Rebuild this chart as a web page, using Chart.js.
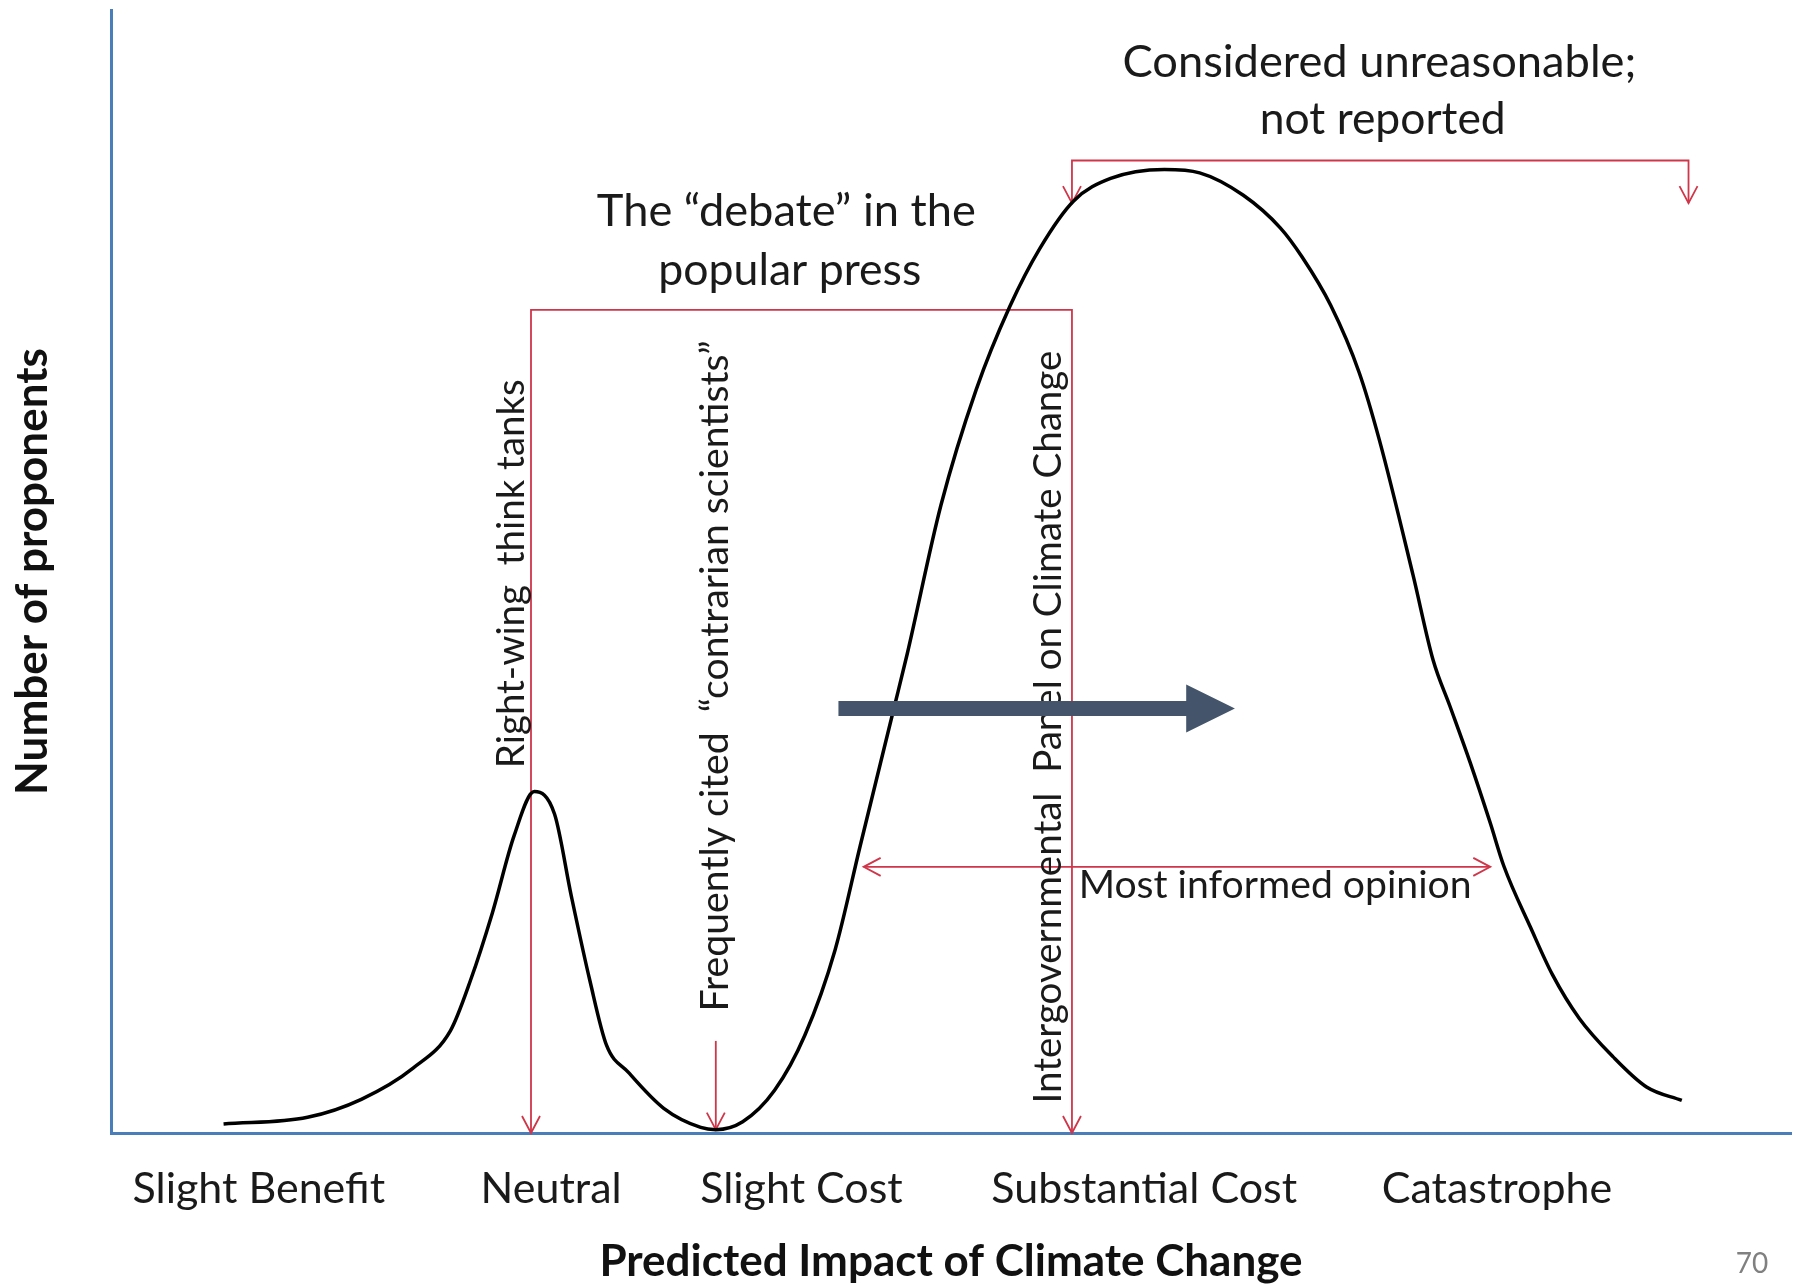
<!DOCTYPE html>
<html>
<head>
<meta charset="utf-8">
<script src="https://cdn.jsdelivr.net/npm/chart.js@4.4.1/dist/chart.umd.min.js"></script>
<style>
html,body{margin:0;padding:0;background:#fff;overflow:hidden}
#wrap{width:1800px;height:1286px;position:relative;background:#fff}
</style>
</head>
<body>
<div id="wrap"><canvas id="c" width="1800" height="1286"></canvas></div>
<script>
// ---------- data ----------
const curveX = [6.7, 11.7, 14.9, 18.0, 20.2, 21.4, 22.7, 24.0, 25.2, 26.4, 27.4, 28.5, 29.5, 30.8, 32.9,
  35.1, 36.0, 37.6, 39.5, 41.3, 43.1, 44.6, 46.6, 47.4, 49.4, 51.5, 53.5, 55.3, 57.3, 59.5, 62.7,
  64.8, 67.4, 69.6, 70.9, 72.6, 74.3, 75.5, 77.5, 78.7, 79.7, 80.9, 82.1, 82.9, 84.5, 85.8, 87.4,
  89.4, 91.4, 93.5];
const curveY = [0.8, 1.4, 3.0, 5.8, 9.1, 13.6, 19.6, 26.5, 30.4, 28.4, 21.1, 13.6, 7.8, 5.4, 2.2,
  0.5, 0.3, 1.0, 3.8, 8.7, 16.3, 25.6, 37.8, 42.7, 55.9, 66.2, 73.6, 78.8, 83.0, 85.0, 85.8,
  85.5, 83.5, 80.6, 78.0, 73.7, 67.7, 61.7, 49.7, 42.1, 38.0, 33.0, 27.6, 23.8, 18.3, 14.1, 10.2,
  6.8, 4.1, 2.9];
const tickValues = [8.8, 26.2, 41.1, 61.5, 82.5];
const tickLabels = ['Slight Benefit', 'Neutral', 'Slight Cost', 'Substantial Cost', 'Catastrophe'];
const xTitle = 'Predicted Impact of Climate Change';
const yTitle = 'Number of proponents';
const pageNumber = '70';

// ---------- annotation layout (in axis units) ----------
const RED = '#d0364a';
const redPaths = [
  // "debate" bracket
  {pts: [[25.0, 0], [25.0, 73.3], [57.2, 73.3], [57.2, 0]], heads: [{at: [25.0, 0], dir: 'down'}, {at: [57.2, 0], dir: 'down'}]},
  // "considered unreasonable" bracket
  {pts: [[57.2, 82.8], [57.2, 86.6], [93.9, 86.6], [93.9, 82.8]], heads: [{at: [57.2, 82.8], dir: 'down'}, {at: [93.9, 82.8], dir: 'down'}]},
  // contrarian scientists pointer
  {pts: [[36.0, 8.2], [36.0, 0.3]], heads: [{at: [36.0, 0.3], dir: 'down'}]},
  // most informed opinion
  {pts: [[44.8, 23.7], [82.1, 23.7]], heads: [{at: [44.8, 23.7], dir: 'left'}, {at: [82.1, 23.7], dir: 'right'}]}
];
const labels = [
  {text: 'Considered unreasonable;', x: 75.5, y: 94.0, align: 'center', w: 514},
  {text: 'not reported', x: 75.7, y: 89.0, align: 'center', w: 246},
  {text: 'The \u201cdebate\u201d in the', x: 40.2, y: 80.8, align: 'center', w: 379},
  {text: 'popular press', x: 40.4, y: 75.5, align: 'center', w: 263},
  {text: 'Most informed opinion', x: 57.6, y: 20.9, align: 'left', w: 393},
  {text: 'Right-wing  think tanks', x: 24.6, y: 49.8, align: 'center', w: 389, rot: true},
  {text: 'Frequently cited  \u201ccontrarian scientists\u201d', x: 36.7, y: 40.7, align: 'center', w: 671, rot: true},
  {text: 'Intergovernmental  Panel on Climate Change', x: 56.55, y: 36.15, align: 'center', w: 753, rot: true}
];
const bigArrow = {x0: 43.3, xHead: 64.0, x1: 66.9, y: 37.8, shaft: 15, head: 48, color: '#44546a'};

function setFit(ctx, text, width, weight) {
  ctx.font = (weight || 'normal') + ' 100px Lato';
  const m = ctx.measureText(text).width;
  ctx.font = (weight || 'normal') + ' ' + (100 * width / m).toFixed(2) + 'px Lato';
}

function head(ctx, x, y, dir) {
  const L = 17, H = 9;
  ctx.beginPath();
  if (dir === 'down') { ctx.moveTo(x - H, y - L); ctx.lineTo(x, y); ctx.lineTo(x + H, y - L); }
  if (dir === 'left') { ctx.moveTo(x + L, y - H); ctx.lineTo(x, y); ctx.lineTo(x + L, y + H); }
  if (dir === 'right') { ctx.moveTo(x - L, y - H); ctx.lineTo(x, y); ctx.lineTo(x - L, y + H); }
  ctx.stroke();
}

const annot = {
  id: 'annot',
  beforeDatasetsDraw(chart) {
    const ctx = chart.ctx, sx = chart.scales.x, sy = chart.scales.y;
    const P = (p) => [sx.getPixelForValue(p[0]), sy.getPixelForValue(p[1])];
    ctx.save();
    ctx.strokeStyle = RED; ctx.lineWidth = 1.8; ctx.lineJoin = 'miter'; ctx.lineCap = 'butt';
    redPaths.forEach(r => {
      ctx.beginPath();
      r.pts.forEach((p, i) => { const q = P(p); i ? ctx.lineTo(q[0], q[1]) : ctx.moveTo(q[0], q[1]); });
      ctx.stroke();
      r.heads.forEach(h => { const q = P(h.at); head(ctx, q[0], q[1], h.dir); });
    });
    ctx.fillStyle = '#1a1a1a';
    ctx.textBaseline = 'alphabetic';
    labels.forEach(l => {
      setFit(ctx, l.text, l.w);
      const q = P([l.x, l.y]);
      ctx.textAlign = l.align;
      if (l.rot) {
        ctx.save(); ctx.translate(q[0], q[1]); ctx.rotate(-Math.PI / 2);
        ctx.fillText(l.text, 0, 0); ctx.restore();
      } else {
        ctx.fillText(l.text, q[0], q[1]);
      }
    });
    ctx.restore();
  },
  afterDatasetsDraw(chart) {
    const ctx = chart.ctx, sx = chart.scales.x, sy = chart.scales.y;
    const a = bigArrow;
    const x0 = sx.getPixelForValue(a.x0), xh = sx.getPixelForValue(a.xHead), x1 = sx.getPixelForValue(a.x1);
    const y = sy.getPixelForValue(a.y);
    ctx.save();
    ctx.fillStyle = a.color;
    ctx.beginPath();
    ctx.moveTo(x0, y - a.shaft / 2);
    ctx.lineTo(xh, y - a.shaft / 2);
    ctx.lineTo(xh, y - a.head / 2);
    ctx.lineTo(x1, y);
    ctx.lineTo(xh, y + a.head / 2);
    ctx.lineTo(xh, y + a.shaft / 2);
    ctx.lineTo(x0, y + a.shaft / 2);
    ctx.closePath();
    ctx.fill();
    // slide number
    ctx.fillStyle = '#808080';
    ctx.font = '28px Lato';
    ctx.textAlign = 'center';
    ctx.textBaseline = 'alphabetic';
    ctx.fillText(pageNumber, chart.width - 48, chart.height - 13);
    ctx.restore();
  }
};

const AXIS = '#4a7ebb';
new Chart(document.getElementById('c').getContext('2d'), {
  type: 'line',
  data: {
    datasets: [{
      data: curveX.map((x, i) => ({x: x, y: curveY[i]})),
      borderColor: '#000', borderWidth: 3.5, pointRadius: 0,
      cubicInterpolationMode: 'monotone', fill: false
    }]
  },
  options: {
    responsive: false, animation: false, events: [],
    layout: {padding: {top: 10, right: 9, left: 0, bottom: 0}},
    plugins: {legend: {display: false}, tooltip: {enabled: false}},
    scales: {
      x: {
        type: 'linear', min: 0, max: 100,
        afterBuildTicks: (a) => { a.ticks = tickValues.map(v => ({value: v})); },
        afterFit: (s) => { s.height = 153; },
        grid: {display: false, drawTicks: false},
        border: {display: true, color: AXIS, width: 3},
        ticks: {autoSkip: false, maxRotation: 0, minRotation: 0, padding: 30, color: '#1a1a1a',
          font: {family: 'Lato', size: 43}, callback: (v, i) => tickLabels[i]},
        title: {display: true, text: xTitle, color: '#111',
          font: {family: 'Lato', size: 44, weight: 'bold', lineHeight: 1.1}, padding: {top: 0, bottom: 0}}
      },
      y: {
        type: 'linear', min: 0, max: 100,
        afterFit: (s) => { s.width = 111; },
        grid: {display: false, drawTicks: false},
        border: {display: true, color: AXIS, width: 3},
        ticks: {display: false},
        title: {display: true, text: yTitle, color: '#111',
          font: {family: 'Lato', size: 44, weight: 'bold', lineHeight: 1.2}, padding: {top: 6, bottom: 0}}
      }
    }
  },
  plugins: [annot]
});
</script>
</body>
</html>
